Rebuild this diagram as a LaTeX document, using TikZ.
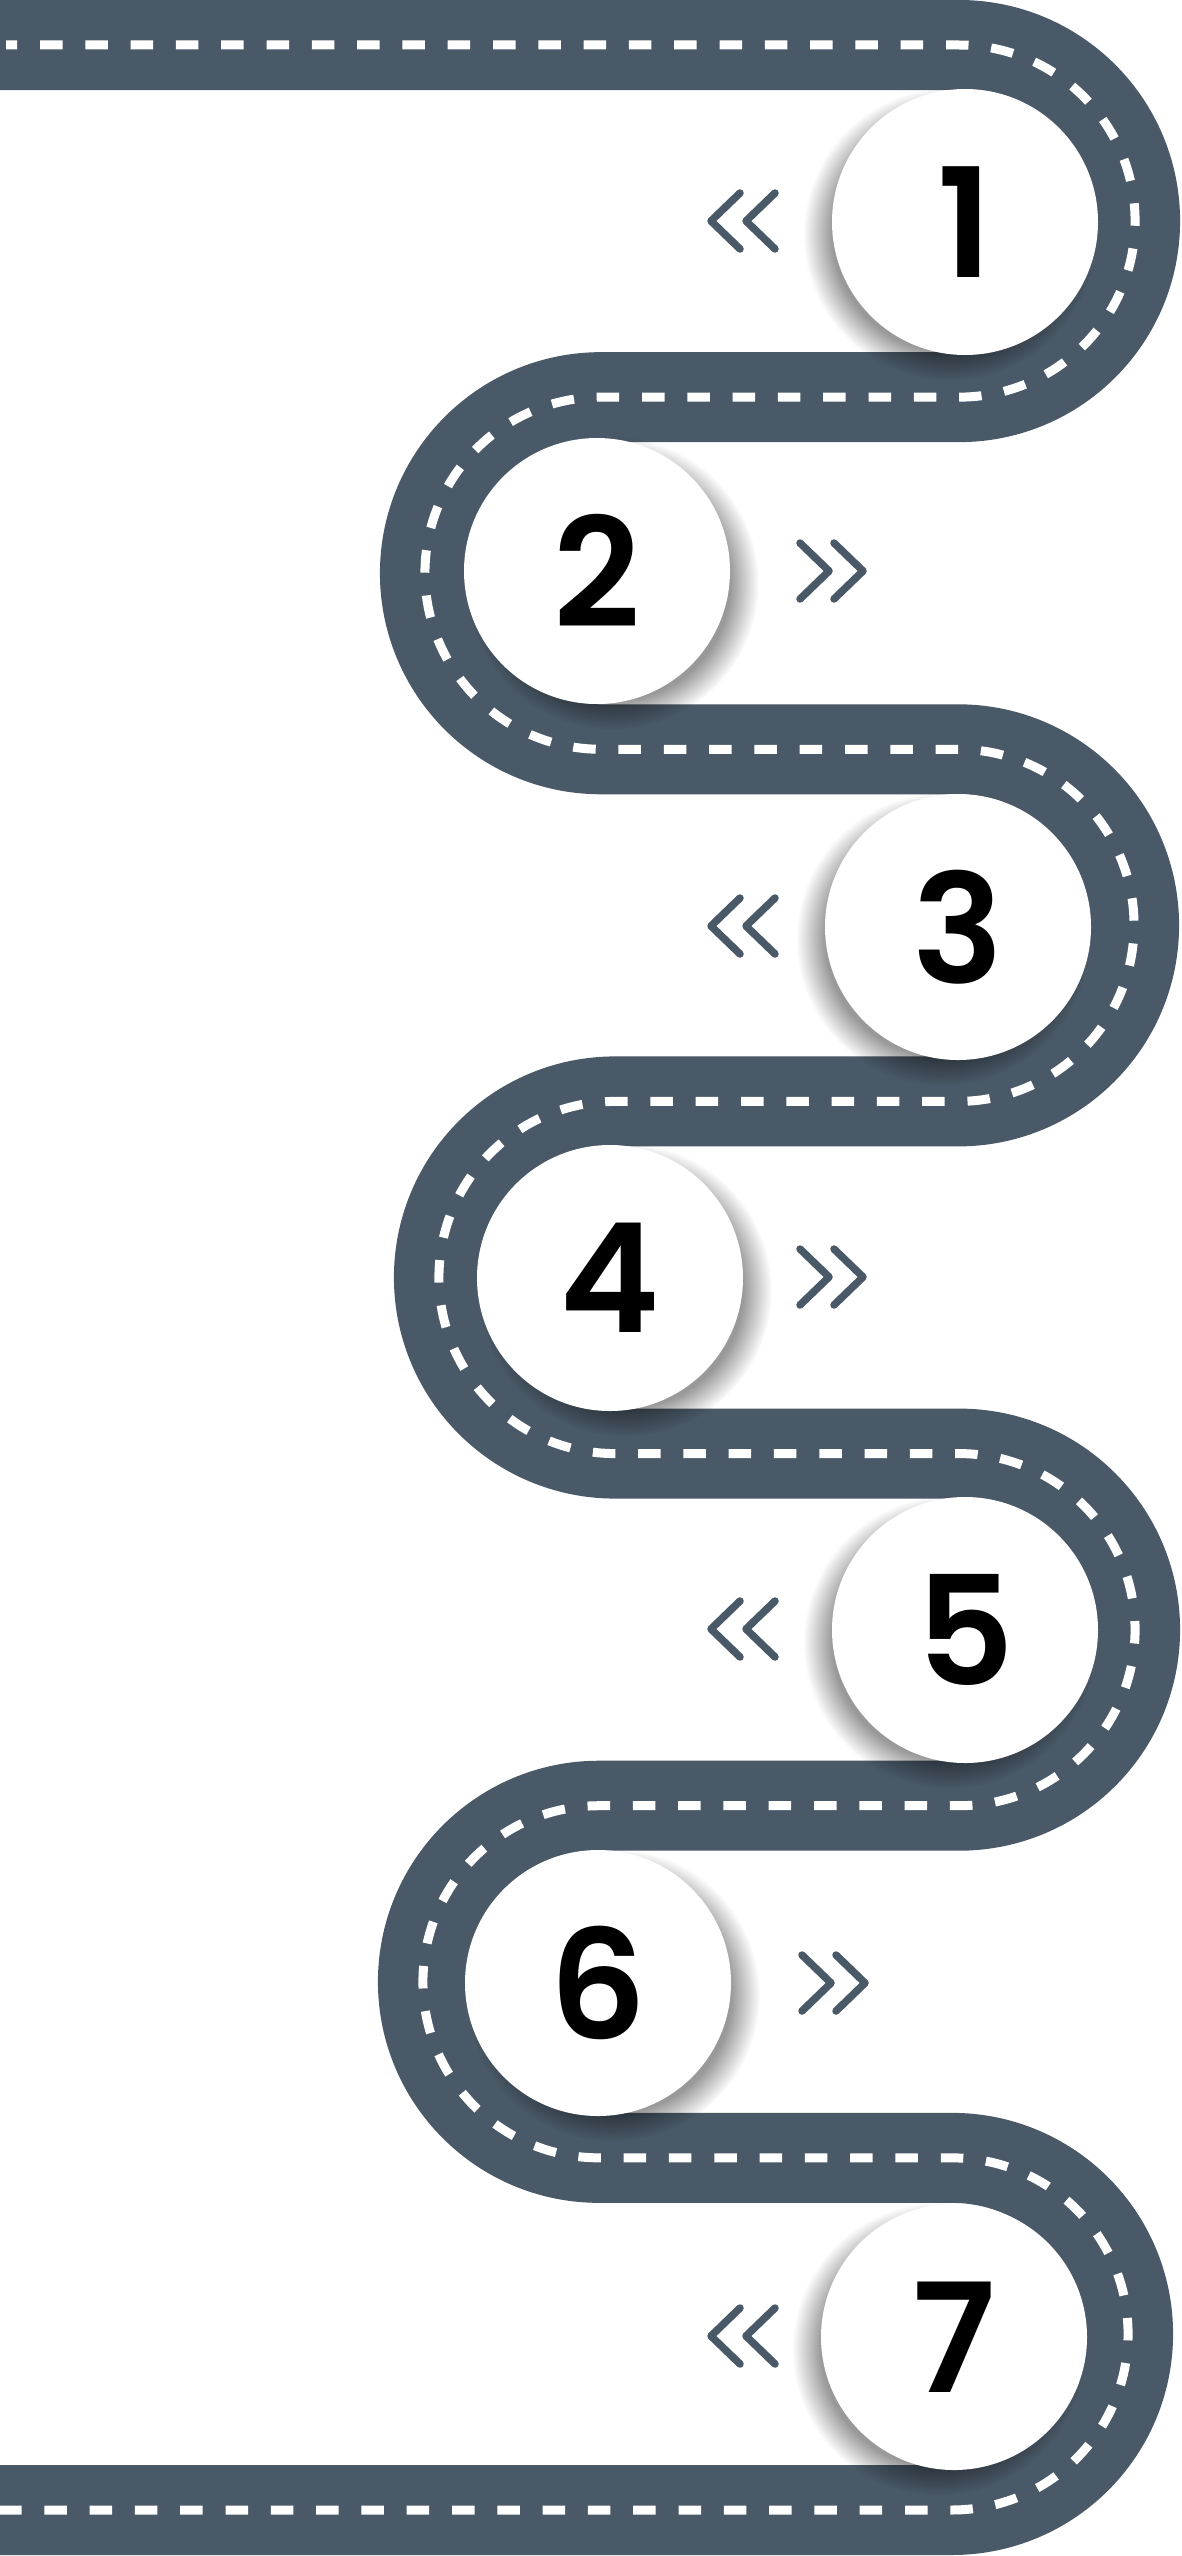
\documentclass[tikz,border=0pt]{standalone}
\usepackage{fontspec}
\newfontfamily\numfont{Poppins}[UprightFont={* SemiBold}]
\usetikzlibrary{shadows,fadings}
\definecolor{road}{HTML}{4A5967}
\newcommand\myroad[2]{%
  \draw[#1] (#2,45) -- (959,45) arc[start angle=-90,end angle=90,radius=176.07]
   -- (601,397.14) arc[start angle=-90,end angle=-270,radius=176.07]
   -- (958,749.28) arc[start angle=-90,end angle=90,radius=176.07]
   -- (615,1101.42) arc[start angle=-90,end angle=-270,radius=176.07]
   -- (959,1453.56) arc[start angle=-90,end angle=90,radius=176.07]
   -- (599,1805.7) arc[start angle=-90,end angle=-270,radius=176.07]
   -- (952,2157.84) arc[start angle=-90,end angle=90,radius=176.07]
   -- (-2,2510);}
\begin{document}
\begin{tikzpicture}[x=1pt,y=-1pt,
  roadline/.style={line width=90pt, draw=road},
  laneline/.style={line width=9pt, draw=white, dash pattern=on 22.5pt off 22.8pt, dash phase=11.3pt},
  stepcircle/.style={circle, fill=white, minimum size=266pt, inner sep=0pt,
    font={\numfont\fontsize{152pt}{152pt}\selectfont}, text=black},
  shadowL/.style={circular drop shadow={shadow xshift=-14pt, shadow yshift=-11pt,
    shadow scale=1.1, opacity=0.4, fill=black, path fading={circle with fuzzy edge 20 percent}}},
  shadowR/.style={circular drop shadow={shadow xshift=14pt, shadow yshift=-11pt,
    shadow scale=1.1, opacity=0.4, fill=black, path fading={circle with fuzzy edge 20 percent}}},
  chev/.style={draw=road, line width=7.5pt, line cap=round, line join=round}
]
\useasboundingbox (0,0) rectangle (1181,2556);
\fill[white] (0,0) rectangle (1181,2556);
\clip (0,0) rectangle (1181,2556);
\myroad{roadline}{-2}
\myroad{laneline}{6}
% step circles
\node[stepcircle, shadowL] (c1) at (965,222) {1};
\node[stepcircle, shadowR] (c2) at (597,571) {2};
\node[stepcircle, shadowL] (c3) at (958,927) {3};
\node[stepcircle, shadowR] (c4) at (610,1278) {4};
\node[stepcircle, shadowL] (c5) at (965,1630) {5};
\node[stepcircle, shadowR] (c6) at (598,1983) {6};
\node[stepcircle, shadowL] (c7) at (954,2337) {7};
% left-pointing chevrons
\foreach \cy in {221,926,1629,2336}{
  \draw[chev] (740,\cy-28) -- (711,\cy) -- (740,\cy+28);
  \draw[chev] (775,\cy-28) -- (746,\cy) -- (775,\cy+28);
}
% right-pointing chevrons
\foreach \cy/\dx in {571/0,1277/0,1983/2}{
  \draw[chev] (800+\dx,\cy-28) -- (829+\dx,\cy) -- (800+\dx,\cy+28);
  \draw[chev] (834+\dx,\cy-28) -- (863+\dx,\cy) -- (834+\dx,\cy+28);
}
\end{tikzpicture}
\end{document}
